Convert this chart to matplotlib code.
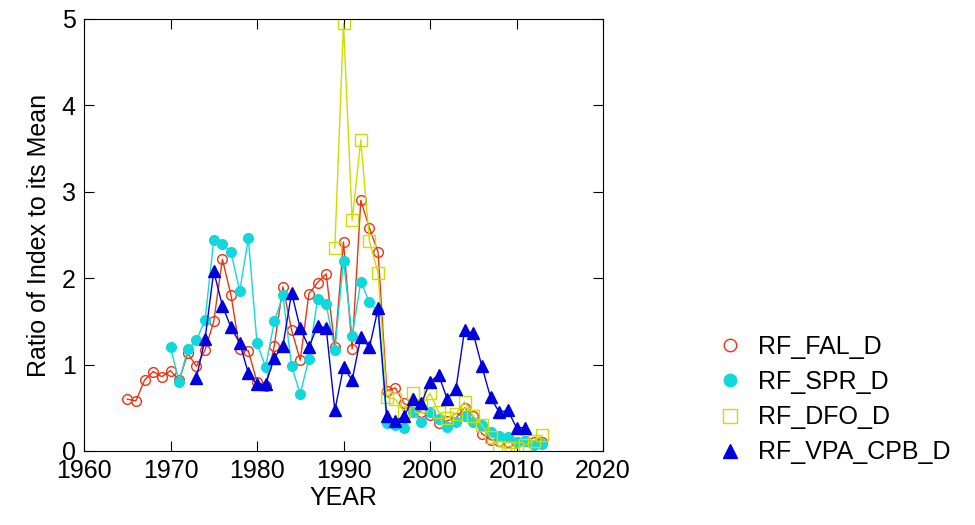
import matplotlib
matplotlib.use('Agg')
import matplotlib.pyplot as plt
from matplotlib.lines import Line2D

fal_years = list(range(1965, 2014))
fal = [0.6, 0.58, 0.82, 0.92, 0.86, 0.93, 0.82, 1.13, 0.98, 1.17, 1.5, 2.22, 1.8, 1.18, 1.16,
       0.8, 0.75, 1.22, 1.9, 1.4, 1.05, 1.82, 1.95, 2.05, 1.2, 2.42, 1.18, 2.9, 2.58, 2.3,
       0.7, 0.73, 0.55, 0.5, 0.45, 0.42, 0.32, 0.35, 0.38, 0.5, 0.4, 0.2, 0.13, 0.12, 0.1,
       0.1, 0.12, 0.1, 0.1]

spr_years = list(range(1970, 2014))
spr = [1.2, 0.8, 1.18, 1.28, 1.52, 2.44, 2.4, 2.3, 1.85, 2.46, 1.25, 0.97, 1.5, 1.8, 0.98,
       0.66, 1.07, 1.76, 1.7, 1.17, 2.2, 1.33, 1.96, 1.72, 1.62, 0.32, 0.3, 0.27, 0.45, 0.33,
       0.45, 0.37, 0.28, 0.33, 0.4, 0.34, 0.3, 0.22, 0.17, 0.16, 0.1, 0.12, 0.07, 0.08]

dfo_years = list(range(1989, 2014))
dfo = [2.35, 4.95, 2.67, 3.6, 2.43, 2.06, 0.62, 0.6, 0.45, 0.67, 0.52, 0.67, 0.45, 0.38,
       0.43, 0.57, 0.4, 0.3, 0.16, 0.05, 0.03, 0.03, 0.07, 0.12, 0.18]

vpa_years = list(range(1973, 2012))
vpa = [0.85, 1.3, 2.08, 1.68, 1.43, 1.25, 0.9, 0.77, 0.77, 1.08, 1.22, 1.83, 1.42, 1.2,
       1.45, 1.42, 0.47, 0.97, 0.82, 1.32, 1.2, 1.65, 0.4, 0.35, 0.4, 0.6, 0.55, 0.8, 0.88,
       0.6, 0.72, 1.4, 1.36, 0.98, 0.62, 0.45, 0.47, 0.27, 0.27]

plt.rcParams['font.family'] = ['Liberation Sans', 'DejaVu Sans']
fig = plt.figure(figsize=(9.75, 5.25), dpi=100)
ax = fig.add_axes([84 / 975, 1 - 451 / 525, (603 - 84) / 975, (451 - 19) / 525])

styles = [
    (fal_years, fal, 'o', '#ee3311', 7, False, 'RF_FAL_D'),
    (spr_years, spr, 'o', '#11d8dd', 7, True, 'RF_SPR_D'),
    (dfo_years, dfo, 's', '#ccdd00', 8, False, 'RF_DFO_D'),
    (vpa_years, vpa, '^', '#0000dd', 8, True, 'RF_VPA_CPB_D'),
]
handles = []
for xs, ys, m, c, ms, filled, lab in styles:
    mfc = c if filled else 'none'
    ax.plot(xs, ys, '-', marker=m, color=c, lw=1, ms=ms, mfc=mfc, mew=1)
    handles.append(Line2D([], [], ls='none', marker=m, color=c, ms=ms + 2, mfc=mfc, mew=1, label=lab))

ax.set_xlim(1960, 2020)
ax.set_ylim(0, 5)
ax.set_xticks(range(1960, 2021, 10))
ax.set_yticks(range(0, 6))
ax.tick_params(direction='in', top=True, right=True, labelsize=18, length=7, pad=6)
ax.set_xlabel('YEAR', fontsize=18, labelpad=2)
ax.set_ylabel('Ratio of Index to its Mean', fontsize=18, labelpad=8)

fig.legend(handles=handles, loc='lower left', bbox_to_anchor=(695 / 975, 38 / 525), frameon=False,
           fontsize=18, handlelength=1.0, handletextpad=0.6, labelspacing=0.45)

fig.savefig('out.png', dpi=100)
